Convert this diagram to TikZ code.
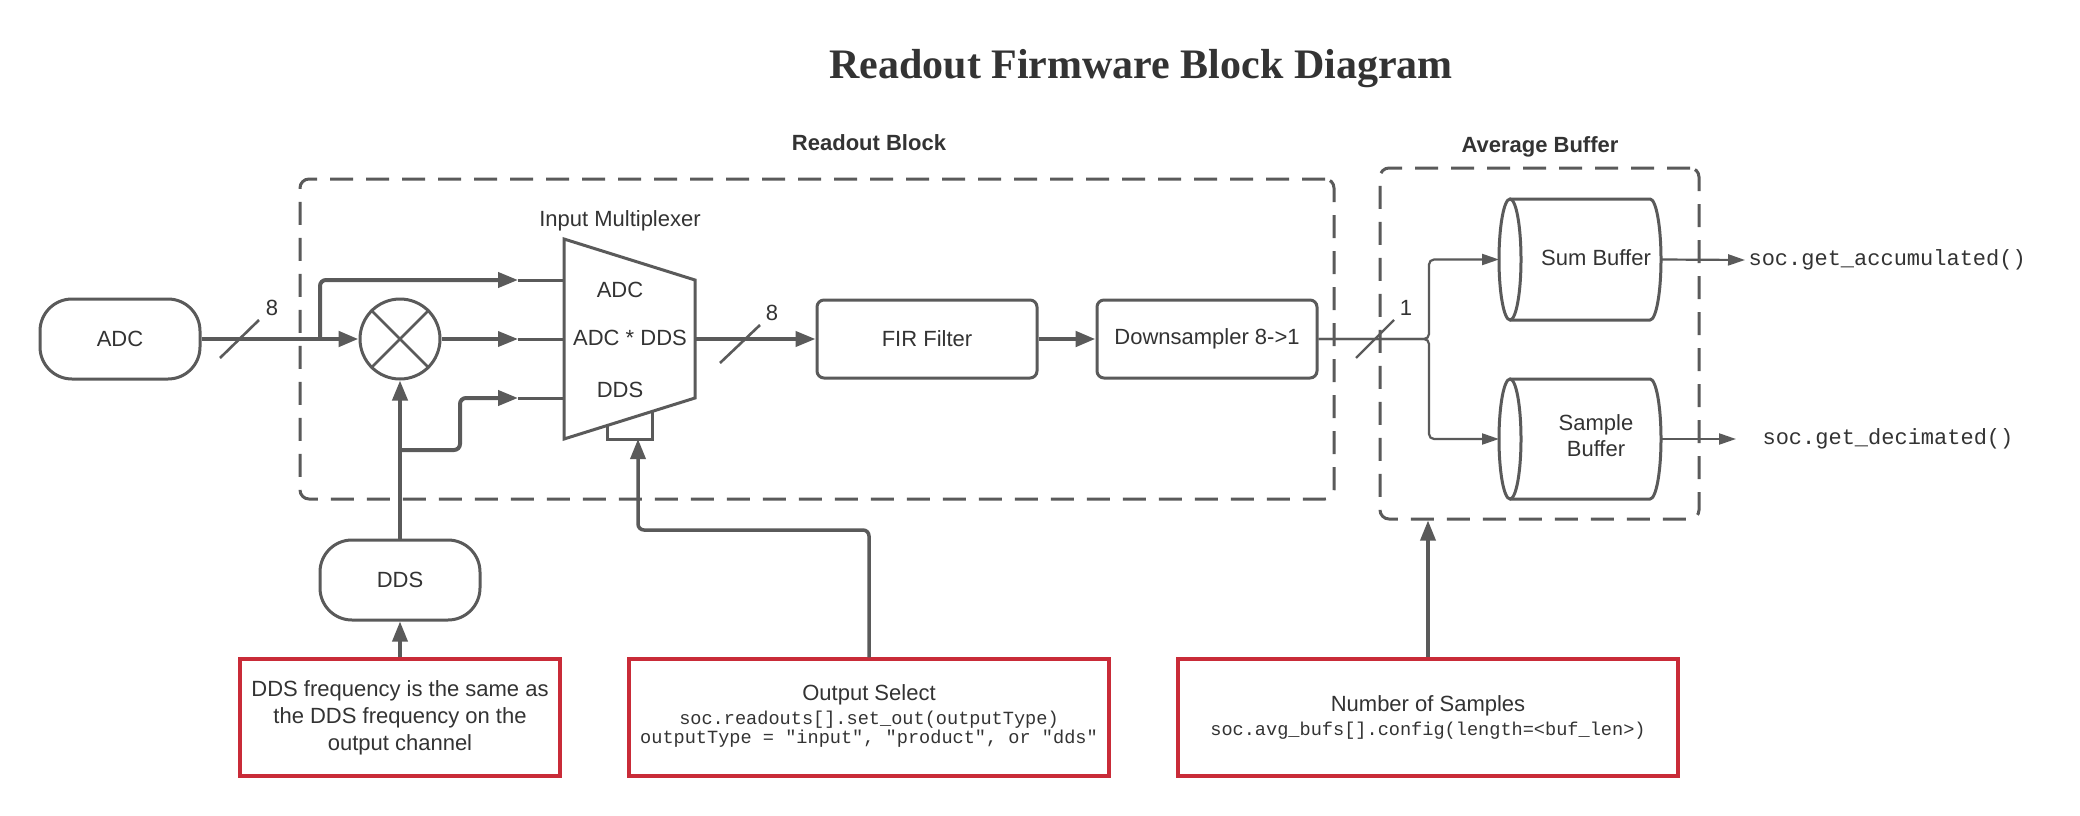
\documentclass[tikz,border=0pt]{standalone}
\usepackage{fontspec}
\setmainfont{Liberation Sans}
\newfontfamily\titlefont{Liberation Serif}
\newfontfamily\monof{Liberation Mono}
\usetikzlibrary{arrows.meta}
\definecolor{lc}{HTML}{5A5A5A}
\definecolor{tx}{HTML}{333333}
\definecolor{rd}{HTML}{C92B38}
\begin{document}
\begin{tikzpicture}[x=1pt,y=-1pt,
  >={Triangle[length=20pt,width=15pt]},
  ln/.style={draw=lc, line width=3.5pt},
  lnthick/.style={draw=lc, line width=4.7pt},
  lnthin/.style={draw=lc, line width=2.2pt, >={Triangle[length=17pt,width=11pt]}},
  slash/.style={draw=lc, line width=2.6pt},
  txt/.style={text=tx, font=\fontsize{22}{27}\selectfont},
  hdr/.style={text=tx, font=\bfseries\fontsize{22}{27}\selectfont},
  mono/.style={text=tx, font=\monof\fontsize{22}{26}\selectfont},
  smono/.style={text=tx, font=\monof\fontsize{18.6}{19}\selectfont},
  dashbox/.style={draw=lc, line width=3pt, dash pattern=on 23pt off 13pt, rounded corners=9pt},
  rbox/.style={draw=rd, line width=3.5pt},
  rnd/.style={draw=lc, line width=3pt, rounded corners=7pt, fill=white},
  term/.style={draw=lc, line width=3pt, rounded corners=32pt},
  cyl/.style={draw=lc, line width=3pt},
]
\useasboundingbox (0,0) rectangle (2080,816);
\fill[white] (0,0) rectangle (2080,816);

% title
\node[text=tx, font=\titlefont\bfseries\fontsize{42}{48}\selectfont, anchor=base] (title) at (1141,78) {Readout Firmware Block Diagram};

% group boxes
\node[dashbox, minimum width=1034pt, minimum height=320pt] (rb) at (817,339) {};
\node[hdr] (rbl) at (869,143) {Readout Block};
\node[dashbox, minimum width=319pt, minimum height=351pt] (ab) at (1539.5,343.5) {};
\node[hdr] (abl) at (1540,147) {Average Buffer};

% sources
\node[term, txt, minimum width=160pt, minimum height=80pt] (adc) at (120,339) {ADC};
\node[term, txt, minimum width=160pt, minimum height=80pt] (dds) at (400,580) {DDS};

% mixer
\node[circle, draw=lc, line width=3pt, minimum size=80pt, inner sep=0pt] (mix) at (400,339) {};
\draw[draw=lc, line width=2.6pt] (mix.north west) -- (mix.south east) (mix.north east) -- (mix.south west);

% multiplexer
\draw[ln, line width=3pt, fill=white, line join=miter] (564,239) -- (695,280) -- (695,398) -- (564,439) -- cycle;
\node[txt] (muxl) at (620,221) {Input Multiplexer};
\node[txt] (mA) at (620,290) {ADC};
\node[txt] (mB) at (630,338) {ADC * DDS};
\node[txt] (mC) at (620,390) {DDS};
\draw[ln, line width=3pt] (607,425.5) -- (607,439) -- (652,439) -- (652,411.5);
\coordinate (sel) at (638,439);

\coordinate (pA) at (518,280);
\coordinate (pB) at (518,339);
\coordinate (pC) at (518,398);
\coordinate (iA) at (564,280);
\coordinate (iB) at (564,339);
\coordinate (iC) at (564,398);
\draw[ln, line width=3pt] (pA) -- (iA) (pB) -- (iB) (pC) -- (iC);

% connections into mux
\coordinate (adcb) at (320,339);
\draw[lnthick,->] (adc.east) -- (mix.west);
\draw[ln,line width=4pt,->,rounded corners=6pt] (adcb) -- (320,280) -- (pA);
\draw[ln,->] (mix.east) -- (pB);
\draw[ln,line width=4pt,->] (dds.north) -- (mix.south);
\coordinate (ddsb) at (400,450);
\draw[ln,line width=4pt,->,rounded corners=6pt] (ddsb) -- (460,450) -- (460,398) -- (pC);
\draw[slash] (220,358) -- (259,320);
\node[txt] (n8a) at (272,308) {8};

% FIR and downsampler
\node[rnd, txt, minimum width=220pt, minimum height=78pt] (fir) at (927,339) {FIR Filter};
\node[rnd, txt, minimum width=220pt, minimum height=78pt] (ds) at (1207,339) {Downsampler 8->1};
\coordinate (mout) at (695,339);
\draw[ln, line width=4pt, ->] (mout) -- (fir.west);
\draw[slash] (720,363) -- (760,325);
\node[txt] (n8b) at (772,313) {8};
\draw[lnthick,->] (fir.east) -- (ds.west);

% buffers
\draw[cyl] (1510,199) -- (1650,199) arc[start angle=-90, end angle=90, x radius=11, y radius=60.5] -- (1510,320);
\draw[cyl] (1510,259.5) ellipse[x radius=11, y radius=60.5];
\draw[cyl] (1510,379) -- (1650,379) arc[start angle=-90, end angle=90, x radius=11, y radius=60] -- (1510,499);
\draw[cyl] (1510,439) ellipse[x radius=11, y radius=60];
\node[txt] (sum) at (1596,258) {Sum Buffer};
\node[txt, align=center, font=\fontsize{22}{26}\selectfont] (samp) at (1596,436) {Sample\\Buffer};
\coordinate (sumL) at (1499,259.5);
\coordinate (sumR) at (1661,259.5);
\coordinate (sampL) at (1499,439);
\coordinate (sampR) at (1661,439);

\coordinate (spl) at (1429,339);
\draw[lnthin, rounded corners=5pt, ->] (ds.east) -- (spl) -- (1429,259.5) -- (sumL);
\draw[lnthin, rounded corners=5pt, ->] (ds.east) -- (spl) -- (1429,439) -- (sampL);
\draw[slash, line width=2.4pt] (1356,358) -- (1394,320);
\node[txt] (n1a) at (1406,308) {1};

\node[mono, anchor=west] (acc) at (1745,260) {soc.get\_accumulated()};
\node[mono, anchor=west] (dec) at (1759,439) {soc.get\_decimated()};
\draw[lnthin,->] (sumR) -- (acc.west);
\draw[lnthin,->] (sampR) -- ([xshift=-23pt]dec.west);

% notes
\node[rbox, minimum width=320pt, minimum height=117pt, txt, align=center] (n1) at (400,717.5) {DDS frequency is the same as\\the DDS frequency on the\\output channel};
\node[rbox, minimum width=480pt, minimum height=117pt] (n2) at (869,717.5) {};
\node[txt] (n2a) at (869,695) {Output Select};
\node[smono] (n2b) at (869,720) {soc.readouts[].set\_out(outputType)};
\node[smono] (n2c) at (869,739) {outputType = "input", "product", or "dds"};
\node[rbox, minimum width=500pt, minimum height=117pt] (n3) at (1428,717.5) {};
\node[txt] (n3a) at (1428,706) {Number of Samples};
\node[smono] (n3b) at (1428,731) {soc.avg\_bufs[].config(length=<buf\_len>)};

\draw[ln,->] (n1.north) -- (dds.south);
\draw[ln,->,rounded corners=6pt] (n2.north) -- (869,530) -- (638,530) -- (sel);
\draw[ln,->] (n3.north) -- (n3.north |- ab.south);
\end{tikzpicture}
\end{document}
